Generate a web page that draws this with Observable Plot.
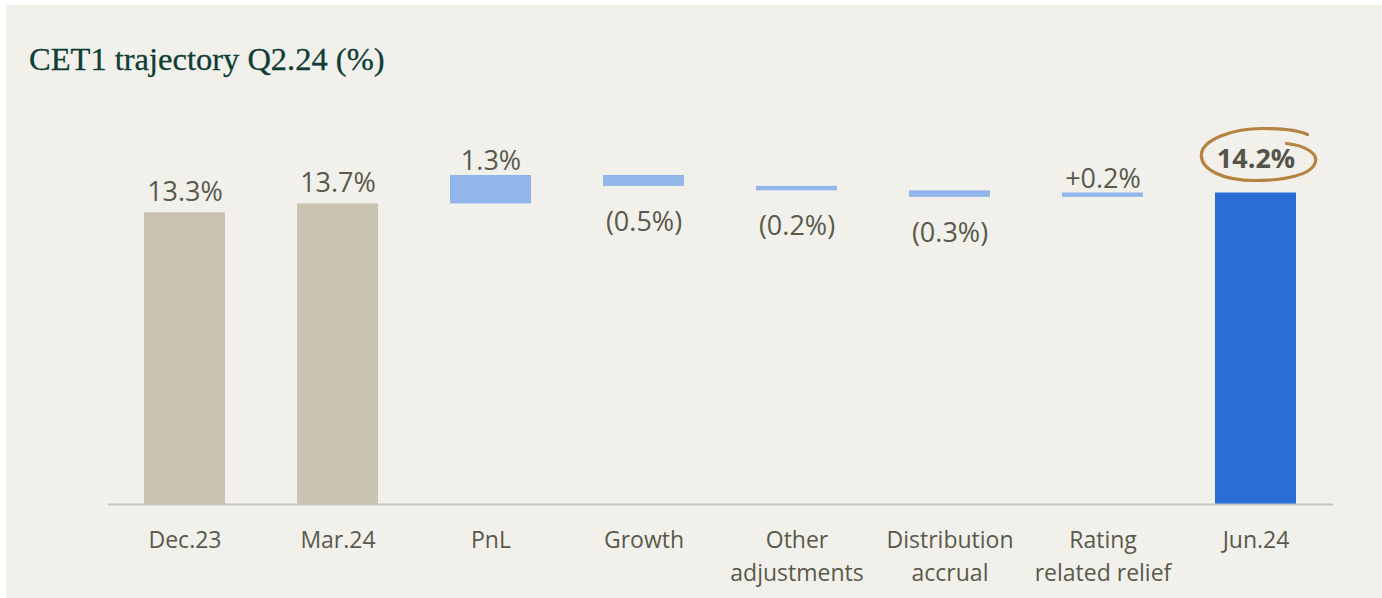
<!DOCTYPE html>
<html>
<head>
<meta charset="utf-8">
<script src="https://cdn.jsdelivr.net/npm/d3@7"></script>
<script src="https://cdn.jsdelivr.net/npm/@observablehq/plot@0.6"></script>
<style>
  html, body { margin: 0; padding: 0; background: #ffffff; width: 1382px; height: 598px; overflow: hidden; }
  #card { position: absolute; left: 6px; top: 5px; width: 1376px; height: 593px; background: #f1f0eb; }
  #title { position: absolute; left: 29px; top: 43px; font-family: "Liberation Serif", serif; font-size: 32.5px; line-height: 32px; color: #0f3d36; white-space: nowrap; -webkit-text-stroke: 0.3px #0f3d36; }
  #chart { position: absolute; left: 0; top: 100px; }
</style>
</head>
<body>
<div id="card"></div>
<div id="title">CET1 trajectory Q2.24 (%)</div>
<div id="chart"></div>
<script>
const categories = ["Dec.23", "Mar.24", "PnL", "Growth", "Other adjustments", "Distribution accrual", "Rating related relief", "Jun.24"];
const tickLabels = ["Dec.23", "Mar.24", "PnL", "Growth", "Other\nadjustments", "Distribution\naccrual", "Rating\nrelated relief", "Jun.24"];
const values = [13.3, 13.7, 1.3, -0.5, -0.2, -0.3, 0.2, 14.2];
const kinds = ["total", "total", "delta", "delta", "delta", "delta", "delta", "final"];
const valueLabels = ["13.3%", "13.7%", "1.3%", "(0.5%)", "(0.2%)", "(0.3%)", "+0.2%", "14.2%"];

let running = 0;
const rows = categories.map((c, i) => {
  const v = values[i];
  let y1, y2;
  if (kinds[i] === "delta") { y1 = running; y2 = running + v; running += v; }
  else { y1 = 0; y2 = v; running = v; }
  return {cat: c, tick: tickLabels[i], kind: kinds[i], value: v, label: valueLabels[i], lo: Math.min(y1, y2), hi: Math.max(y1, y2)};
});
const tickMap = new Map(rows.map(d => [d.cat, d.tick]));

const textColor = "#5a594b";
const chart = Plot.plot({
  width: 1382,
  height: 498,
  marginLeft: 108,
  marginRight: 49,
  marginTop: 53,
  marginBottom: 94,
  style: {fontFamily: "'Open Sans', sans-serif", background: "transparent", color: textColor},
  x: {domain: categories, paddingInner: 0.47, paddingOuter: 0.235, axis: null, label: null},
  y: {domain: [0, 16], axis: null},
  marks: [
    Plot.barY(rows.filter(d => d.kind === "total"), {x: "cat", y1: "lo", y2: "hi", fill: "#c9c3b1"}),
    Plot.barY(rows.filter(d => d.kind === "delta"), {x: "cat", y1: "lo", y2: "hi", fill: "#93b6ea"}),
    Plot.barY(rows.filter(d => d.kind === "final"), {x: "cat", y1: "lo", y2: "hi", fill: "#2a6dd4"}),
    Plot.ruleY([0], {stroke: "#c4c4c4", strokeWidth: 2}),
    Plot.axisX({tickSize: 0, tickPadding: 21, fontSize: 23, lineHeight: 1.4, fill: textColor, label: null, tickFormat: d => tickMap.get(d)}),
    Plot.text(rows.filter(d => d.kind === "total"), {x: "cat", y: "hi", text: "label", lineAnchor: "bottom", dy: -12, fontSize: 27, fill: textColor}),
    Plot.text(rows.filter(d => d.kind === "delta" && d.value > 0), {x: "cat", y: "hi", text: "label", lineAnchor: "bottom", dy: -5, fontSize: 27, fill: textColor}),
    Plot.text(rows.filter(d => d.kind === "delta" && d.value < 0), {x: "cat", y: "lo", text: "label", lineAnchor: "top", dy: 25, fontSize: 27, fill: textColor}),
    Plot.text(rows.filter(d => d.kind === "final"), {x: "cat", y: "hi", text: "label", lineAnchor: "bottom", dy: -25, fontSize: 27, fontWeight: "bold", fill: "#55544a"})
  ]
});
document.getElementById("chart").append(chart);

// hand-drawn loop around the final value
const xs = chart.scale("x"), ys = chart.scale("y");
const fin = rows.find(d => d.kind === "final");
const cx = xs.apply(fin.cat) + xs.bandwidth / 2 + 2;
const cy = ys.apply(fin.hi) - 37;
d3.select(chart).append("path")
  .attr("transform", `translate(${cx},${cy})`)
  .attr("d", "M 29,-12 C 48,-10 60,-2 58,6 C 55,20 25,25 -2,25 C -35,25 -58,14 -56,-2 C -54,-16 -25,-27 5,-27 C 25,-27 42,-25 50,-21")
  .attr("fill", "none")
  .attr("stroke", "#b5833f")
  .attr("stroke-width", 3.2)
  .attr("stroke-linecap", "round");
</script>
</body>
</html>
